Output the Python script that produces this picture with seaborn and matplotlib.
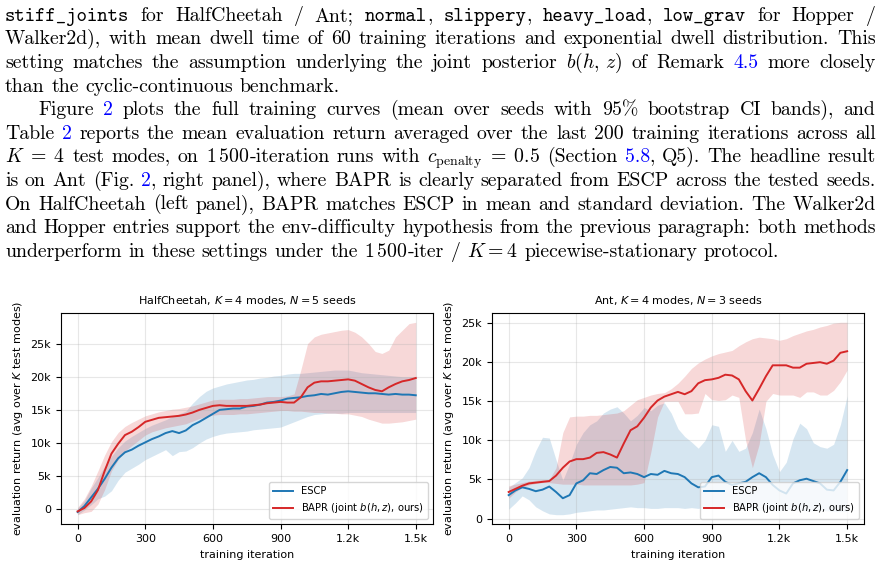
# -*- coding: utf-8 -*-
"""
Paper page: paragraph text + Fig. 2 training curves (HalfCheetah / Ant)
"""

import numpy as np
import pandas as pd
import matplotlib.pyplot as plt
import seaborn as sns
from matplotlib.ticker import MultipleLocator, FuncFormatter

# ----------------------------------------
# Data (returns in thousands)
# ----------------------------------------

iters = [0, 30, 60, 90, 120, 150, 180, 210, 240, 270, 300, 330, 360, 390, 420, 450, 480,
         510, 540, 570, 600, 630, 660, 690, 720, 750, 780, 810, 840, 870, 900, 930, 960,
         990, 1020, 1050, 1080, 1110, 1140, 1170, 1200, 1230, 1260, 1290, 1320, 1350,
         1380, 1410, 1440, 1470, 1500]

# HalfCheetah
hc_escp_mean = [-0.4, 0.5, 1.8, 3.1, 4.6, 6.3, 7.7, 8.6, 9.0, 9.6, 10.1, 10.6, 11.0, 11.5, 11.8,
                11.5, 11.9, 12.7, 13.2, 13.8, 14.4, 15.0, 15.1, 15.2, 15.2, 15.5, 15.6, 15.8,
                16.1, 16.2, 16.4, 16.7, 16.8, 16.9, 17.1, 17.2, 17.4, 17.3, 17.5, 17.7, 17.8,
                17.7, 17.6, 17.5, 17.5, 17.4, 17.3, 17.4, 17.3, 17.3, 17.2]
hc_escp_lo = [-0.8, -0.1, 0.7, 1.6, 2.0, 2.8, 4.4, 5.6, 6.2, 6.8, 7.5, 8.0, 8.5, 9.0, 8.1, 8.7,
              8.8, 9.3, 10.0, 10.6, 11.0, 11.3, 11.5, 11.6, 11.7, 11.8, 12.0, 12.1, 12.2, 12.3,
              12.4, 12.8, 13.2, 13.6, 14.0, 14.3, 14.4, 14.5, 14.5, 14.5, 14.6, 14.6, 14.6,
              14.6, 14.6, 14.6, 14.6, 14.6, 14.6, 14.6, 14.6]
hc_escp_hi = [0.2, 1.3, 3.2, 4.8, 6.5, 8.0, 9.3, 10.3, 11.0, 11.6, 12.2, 12.7, 13.1, 13.5, 14.0,
              14.4, 14.8, 16.0, 17.0, 17.8, 18.3, 18.6, 18.9, 19.1, 19.3, 19.5, 19.6, 19.8,
              19.9, 20.1, 20.2, 20.4, 20.5, 20.5, 20.6, 20.7, 20.8, 20.9, 21.0, 21.0, 21.0,
              20.8, 20.6, 20.5, 20.4, 20.3, 20.2, 20.1, 20.0, 20.0, 20.0]
hc_bapr_mean = [-0.3, 0.2, 1.2, 2.9, 5.8, 8.4, 9.9, 11.2, 11.7, 12.4, 13.2, 13.5, 13.8, 13.9,
                14.0, 14.1, 14.3, 14.6, 15.0, 15.3, 15.6, 15.7, 15.6, 15.6, 15.6, 15.6, 15.7,
                15.8, 16.0, 16.1, 16.2, 16.1, 16.1, 16.9, 18.4, 19.1, 19.3, 19.3, 19.4, 19.5,
                19.6, 19.4, 18.9, 18.4, 18.0, 17.8, 18.4, 18.9, 19.3, 19.5, 19.8]
hc_bapr_lo = [-0.8, -0.5, -0.3, 0.8, 3.0, 5.8, 7.5, 8.8, 9.6, 10.4, 11.2, 11.7, 12.0, 12.3,
              12.5, 12.7, 12.9, 13.3, 13.7, 14.0, 14.2, 14.3, 14.3, 14.3, 14.4, 14.4, 14.5,
              14.6, 14.7, 14.8, 14.9, 14.9, 14.8, 14.8, 14.7, 14.6, 14.6, 14.5, 14.5, 14.4,
              14.4, 14.2, 14.0, 13.6, 13.3, 13.0, 13.0, 13.1, 13.2, 13.4, 13.6]
hc_bapr_hi = [0.3, 1.6, 3.5, 5.8, 8.2, 10.2, 11.6, 12.5, 13.1, 13.6, 14.1, 14.4, 14.7, 14.9,
              15.1, 15.2, 15.4, 15.6, 15.9, 16.2, 16.5, 16.6, 16.6, 16.6, 16.7, 16.7, 16.8,
              16.9, 17.0, 17.0, 17.0, 17.1, 17.4, 21.0, 25.0, 26.0, 26.4, 26.6, 26.8, 27.0,
              27.1, 26.7, 26.0, 25.0, 23.8, 23.5, 24.0, 26.0, 27.0, 28.0, 28.2]

# Ant
ant_escp_mean = [3.0, 3.6, 4.0, 3.8, 3.5, 3.7, 4.1, 3.4, 2.6, 3.0, 4.5, 4.9, 5.8, 5.7, 6.2, 6.6,
                 6.5, 5.8, 5.9, 5.7, 5.3, 5.7, 5.6, 6.1, 5.8, 5.7, 5.3, 4.5, 4.0, 4.1, 5.3, 5.5,
                 4.7, 4.3, 4.5, 4.7, 5.3, 5.8, 5.3, 4.3, 3.6, 3.2, 4.5, 4.9, 5.1, 4.8, 4.5, 3.7,
                 3.6, 4.7, 6.2]
ant_escp_lo = [1.2, 2.0, 2.9, 2.4, 1.5, 1.0, 0.6, 0.5, 0.5, 0.6, 0.8, 0.9, 1.0, 1.1, 1.1, 1.2,
               1.3, 1.4, 1.5, 1.4, 1.4, 1.3, 1.3, 1.4, 1.4, 1.4, 1.3, 1.4, 1.3, 1.5, 1.6, 1.5,
               1.4, 1.3, 1.2, 1.2, 1.1, 1.1, 1.2, 1.1, 1.0, 1.1, 1.2, 1.1, 1.0, 1.0, 1.1, 1.0,
               0.9, 0.9, 0.9]
ant_escp_hi = [4.0, 4.6, 5.2, 6.5, 8.7, 10.4, 10.3, 7.5, 4.9, 7.0, 9.5, 11.0, 12.0, 12.5, 13.5,
               14.0, 14.3, 13.5, 12.5, 13.2, 14.2, 13.8, 14.5, 14.8, 13.5, 11.5, 10.5, 9.8, 9.0,
               10.0, 12.0, 11.8, 8.6, 10.0, 8.6, 9.0, 11.0, 14.0, 11.5, 8.2, 6.0, 7.2, 10.2,
               12.2, 11.5, 9.7, 9.2, 9.0, 9.5, 12.0, 15.7]
ant_bapr_mean = [3.4, 3.8, 4.2, 4.5, 4.6, 4.7, 4.8, 5.5, 6.5, 7.3, 7.6, 7.6, 7.8, 8.4, 8.5, 8.2,
                 7.8, 9.6, 11.3, 11.8, 12.9, 14.2, 15.1, 15.6, 15.9, 16.2, 15.9, 16.3, 17.3,
                 17.7, 17.8, 18.0, 18.4, 18.3, 17.8, 16.3, 15.1, 16.6, 18.2, 19.6, 19.6, 19.6,
                 19.3, 19.3, 19.8, 19.9, 20.0, 19.8, 20.2, 21.2, 21.4]
ant_bapr_lo = [2.6, 3.4, 4.0, 4.3, 4.5, 4.6, 4.6, 4.5, 4.4, 4.4, 4.4, 4.3, 4.3, 4.3, 4.3, 4.3,
               4.3, 4.3, 4.3, 4.4, 4.6, 8.5, 13.0, 15.0, 15.0, 15.0, 13.4, 13.4, 13.5, 16.0,
               15.2, 15.1, 15.2, 15.8, 15.5, 10.0, 6.5, 9.5, 15.0, 16.0, 15.8, 15.8, 15.8, 15.5,
               16.2, 16.2, 15.8, 15.8, 16.4, 17.5, 19.0]
ant_bapr_hi = [4.2, 4.4, 4.6, 4.8, 4.9, 5.0, 5.0, 6.5, 11.0, 13.0, 13.1, 13.1, 13.2, 13.2, 13.3,
               13.4, 13.5, 13.8, 14.5, 15.2, 15.5, 15.8, 16.0, 16.1, 16.6, 17.3, 18.2, 19.2,
               19.9, 20.4, 20.8, 21.1, 21.3, 21.5, 22.1, 22.6, 23.0, 23.2, 23.1, 23.0, 22.8,
               23.0, 23.4, 23.7, 24.0, 24.2, 24.5, 24.7, 25.0, 25.1, 25.1]

# ----------------------------------------
# Page text
# ----------------------------------------

para_lines = [
    [("stiff_joints", "tt"), (" for HalfCheetah / Ant; ", "rm"), ("normal", "tt"), (", ", "rm"),
     ("slippery", "tt"), (", ", "rm"), ("heavy_load", "tt"), (", ", "rm"), ("low_grav", "tt"),
     (" for Hopper /", "rm")],
    [("Walker2d), with mean dwell time of 60 training iterations and exponential dwell "
      "distribution. This", "rm")],
    [("setting matches the assumption underlying the joint posterior ", "rm"),
     (r"$b(h,\,z)$", "math"), (" of Remark ", "rm"), ("4.5", "link"), (" more closely", "rm")],
    [("than the cyclic-continuous benchmark.", "rm")],
    [("Figure ", "rm"), ("2", "link"),
     (" plots the full training curves (mean over seeds with 95% bootstrap CI bands), and", "rm")],
    [("Table ", "rm"), ("2", "link"),
     (" reports the mean evaluation return averaged over the last 200 training iterations "
      "across all", "rm")],
    [(r"$K\;=\;4$", "math"), (" test modes, on ", "rm"), (r"$1\,500$", "math"),
     ("-iteration runs with ", "rm"), (r"$c_{\mathrm{penalty}}\;=\;0.5$", "math"),
     (" (Section ", "rm"), ("5.8", "link"), (", Q5). The headline result", "rm")],
    [("is on Ant (Fig. ", "rm"), ("2", "link"),
     (", right panel), where BAPR is clearly separated from ESCP across the tested seeds.", "rm")],
    [("On HalfCheetah (left panel), BAPR matches ESCP in mean and standard deviation. "
      "The Walker2d", "rm")],
    [("and Hopper entries support the env-difficulty hypothesis from the previous paragraph: "
      "both methods", "rm")],
    [("underperform in these settings under the ", "rm"), (r"$1\,500$", "math"),
     ("-iter / ", "rm"), (r"$K{=}4$", "math"), (" piecewise-stationary protocol.", "rm")],
]
justified = [True, True, True, False, True, True, True, True, True, True, False]
indents = [0, 0, 0, 0, 33, 0, 0, 0, 0, 0, 0]

W, H = 880, 564
FS = 14.25
STYLE = {
    "rm": dict(family=["cmr10", "DejaVu Serif"], size=FS, color="black"),
    "tt": dict(family=["cmtt10", "DejaVu Sans Mono"], size=FS, color="black"),
    "math": dict(family=["cmr10", "DejaVu Serif"], size=FS, color="black", math_fontfamily="cm"),
    "link": dict(family=["cmr10", "DejaVu Serif"], size=FS, color="#0000ff"),
}

fig = plt.figure(figsize=(8.8, 5.64), dpi=100)
renderer = fig.canvas.get_renderer()


def split_words(segments):
    words, cur = [], []
    for txt, kind in segments:
        if kind == "math":
            cur.append((txt, kind))
            continue
        for k, part in enumerate(txt.split(" ")):
            if k > 0 and cur:
                words.append(cur)
                cur = []
            if part:
                cur.append((part, kind))
    if cur:
        words.append(cur)
    return words


def draw_line(segments, y, x0, x1, justify):
    words = split_words(segments)
    rows, widths = [], []
    for w in words:
        row, tot = [], 0.0
        for txt, kind in w:
            t = fig.text(0, 0, txt, ha="left", va="baseline", **STYLE[kind])
            wd = t.get_window_extent(renderer).width
            row.append((t, wd))
            tot += wd
        rows.append(row)
        widths.append(tot)
    gap = (x1 - x0 - sum(widths)) / (len(words) - 1) if justify else 0.333 * FS * 100 / 72
    x = x0
    for row in rows:
        for t, wd in row:
            t.set_position((x / W, 1 - y / H))
            x += wd
        x += gap


for i, segs in enumerate(para_lines):
    draw_line(segs, 20.7 + 23.6 * i, 5 + indents[i], 875.5, justified[i])

# ----------------------------------------
# Training curves
# ----------------------------------------

BLUE = "#1f77b4"
RED = "#d62728"


def k_fmt_x(v, pos):
    return f"{v / 1000:g}k" if abs(v) >= 1000 else f"{v:g}"


def k_fmt_y(v, pos):
    return "0" if v == 0 else f"{v:g}k"


panels = [
    ("HalfCheetah, $K = 4$ modes, $N = 5$ seeds", [0.069, 0.0704, 0.4227, 0.3752],
     hc_escp_mean, hc_escp_lo, hc_escp_hi, hc_bapr_mean, hc_bapr_lo, hc_bapr_hi),
    ("Ant, $K = 4$ modes, $N = 3$ seeds", [0.5588, 0.0704, 0.4231, 0.3752],
     ant_escp_mean, ant_escp_lo, ant_escp_hi, ant_bapr_mean, ant_bapr_lo, ant_bapr_hi),
]

for title, rect, e_m, e_lo, e_hi, b_m, b_lo, b_hi in panels:
    ax = fig.add_axes(rect)
    df = pd.DataFrame({"iter": iters, "escp": e_m, "bapr": b_m})

    ax.fill_between(iters, e_lo, e_hi, color=BLUE, alpha=0.18, linewidth=0)
    ax.fill_between(iters, b_lo, b_hi, color=RED, alpha=0.18, linewidth=0)
    sns.lineplot(data=df, x="iter", y="escp", color=BLUE, linewidth=1.4, label="ESCP", ax=ax)
    sns.lineplot(data=df, x="iter", y="bapr", color=RED, linewidth=1.4,
                 label="BAPR (joint $b(h,z)$, ours)", ax=ax)

    ax.xaxis.set_major_locator(MultipleLocator(300))
    ax.yaxis.set_major_locator(MultipleLocator(5))
    ax.xaxis.set_major_formatter(FuncFormatter(k_fmt_x))
    ax.yaxis.set_major_formatter(FuncFormatter(k_fmt_y))
    ax.tick_params(labelsize=8)
    ax.grid(True, alpha=0.3)
    ax.set_title(title, fontsize=8)
    ax.set_xlabel("training iteration", fontsize=8)
    ax.set_ylabel("evaluation return (avg over $K$ test modes)", fontsize=8)
    ax.legend(loc="lower right", fontsize=7.2)

fig.savefig("out.png", dpi=100)
